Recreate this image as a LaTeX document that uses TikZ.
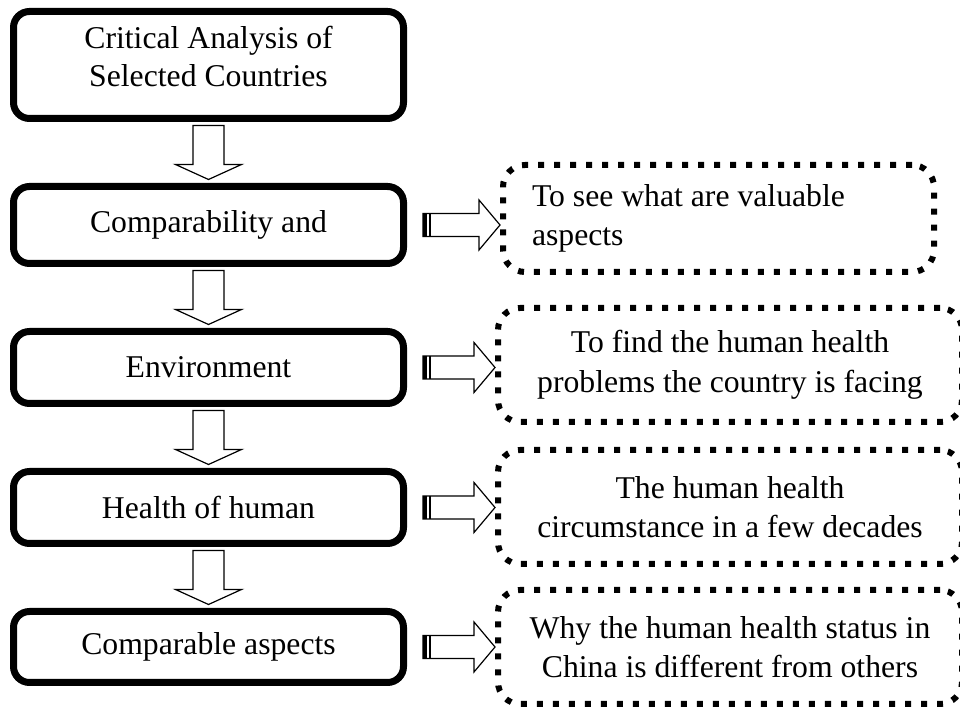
\documentclass[tikz,border=0pt]{standalone}
\usepackage{fontspec}
\setmainfont{Liberation Serif}
\usetikzlibrary{calc}
\tikzset{
  stage/.style={draw, line width=7pt, rounded corners=16pt, minimum width=390pt,
    align=center, font=\fontsize{31.7}{38}\selectfont},
  aim/.style={draw, line width=6pt, dash pattern=on 6pt off 10pt, rounded corners=22pt,
    minimum width=464pt, minimum height=114pt, align=center,
    font=\fontsize{31.7}{39.5}\selectfont},
  stripe/.style={to path={-- (\tikztotarget)}},
  downarr/.style={draw, line width=1.2pt, fill=white, line join=miter,
    to path={let \p1=(\tikztostart), \p2=(\tikztotarget) in
      (\x1-15.5pt,\y1-3.5pt) -- (\x1-15.5pt,\y2+18.5pt) -- (\x1-33pt,\y2+18.5pt)
      -- (\x1,\y2+3.5pt) -- (\x1+33pt,\y2+18.5pt) -- (\x1+15.5pt,\y2+18.5pt)
      -- (\x1+15.5pt,\y1-3.5pt) -- cycle}},
  sidearr/.style={draw, line width=1.2pt, fill=white, line join=miter,
    to path={let \p1=(\tikztostart), \p2=(\tikztotarget) in
      (\x1+16pt,\y1+11.5pt) -- (\x2-21pt,\y1+11.5pt) -- (\x2-21pt,\y1+25pt)
      -- (\x2,\y1) -- (\x2-21pt,\y1-25pt) -- (\x2-21pt,\y1-11.5pt)
      -- (\x1+16pt,\y1-11.5pt) -- cycle
      (\x1+18pt,\y1+11.5pt) edge[stripe, line width=4pt] (\x1+18pt,\y1-11.5pt)
      (\x1+23pt,\y1+11.5pt) edge[stripe, line width=1.5pt] (\x1+23pt,\y1-11.5pt)}}
}
\begin{document}
\begin{tikzpicture}[x=1pt,y=1pt]
      \useasboundingbox (0,0) rectangle (960,711);
      \node[stage, minimum height=107pt, text depth=18pt] (l1) at (208.5,646) {Critical Analysis of\\Selected Countries};
      \node[stage, minimum height=77pt] (l2) at (208.5,486) {Comparability and};
      \node[stage, minimum height=72pt] (l3) at (208.5,343.5) {Environment};
      \node[stage, minimum height=72pt] (l4) at (208.5,203.5) {Health of human};
      \node[stage, minimum height=71pt] (l5) at (208.5,64) {Comparable aspects};
      \node[aim, minimum width=431pt, minimum height=107pt, text width=373pt, align=flush left]
        (r1) at (718.5,492.5) {To see what are valuable\\aspects};
      \node[aim] (r2) at (730,346) {To find the human health\\problems the country is facing};
      \node[aim] (r3) at (730,204) {The human health\\circumstance in a few decades};
      \node[aim] (r4) at (730,64) {Why the human health status in\\China is different from others};
      \draw[downarr] (l1.south) to (l2.north);
      \draw[downarr] (l2.south) to (l3.north);
      \draw[downarr] (l3.south) to (l4.north);
      \draw[downarr] (l4.south) to (l5.north);
      \draw[sidearr] (l2.east) to (r1.west);
      \draw[sidearr] (l3.east) to (r2.west);
      \draw[sidearr] (l4.east) to (r3.west);
      \draw[sidearr] (l5.east) to (r4.west);
    \end{tikzpicture}
\end{document}
